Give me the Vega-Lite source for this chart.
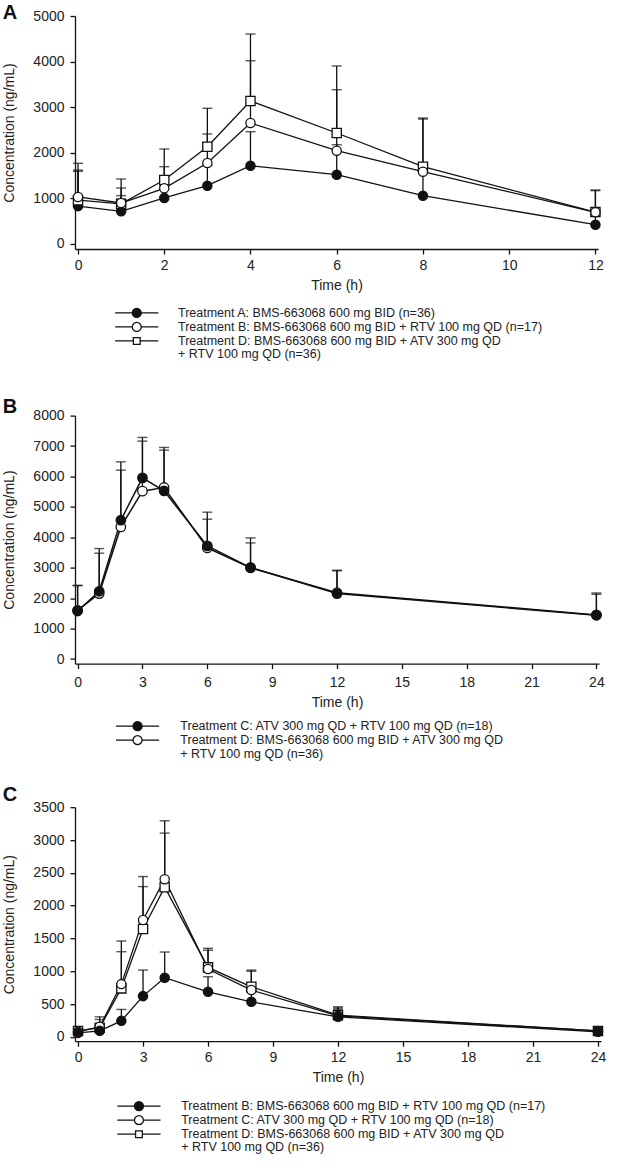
{
  "$schema": "https://vega.github.io/schema/vega-lite/v6.json",
  "background": "white",
  "padding": {"left": 2, "top": 2, "right": 5, "bottom": 0},
  "spacing": 22.6,
  "bounds": "full",
  "config": {
    "view": {"stroke": null},
    "font": "Liberation Sans",
    "axis": {"domainColor": "#111", "domainWidth": 1.3, "tickColor": "#111", "tickWidth": 1.3, "tickSize": 5, "labelFont": "Liberation Sans", "labelFontSize": 14, "labelColor": "#222", "titleFont": "Liberation Sans", "titleFontSize": 14, "titleFontWeight": "normal", "titleColor": "#222", "grid": false, "labelFlush": false, "labelOverlap": false},
    "axisX": {"labelPadding": 4, "titlePadding": 6},
    "axisY": {"labelPadding": 6, "titlePadding": 16},
    "title": {"font": "Liberation Sans", "fontSize": 20, "fontWeight": "bold", "anchor": "start", "frame": "bounds", "color": "#111", "baseline": "alphabetic"},
    "legend": {"orient": "none", "direction": "vertical", "symbolSize": 81, "labelFont": "Liberation Sans", "labelFontSize": 12.5, "labelColor": "#222", "rowPadding": -2, "symbolStrokeWidth": 1.3, "symbolOpacity": 1, "labelLimit": 600, "title": null}
  },
  "datasets": {
    "A": [
      {"series": "Treatment A: BMS-663068 600 mg BID (n=36)", "time": 0, "mean": 830, "upper": 1594},
      {"series": "Treatment A: BMS-663068 600 mg BID (n=36)", "time": 1, "mean": 717, "upper": 1060},
      {"series": "Treatment A: BMS-663068 600 mg BID (n=36)", "time": 2, "mean": 1009, "upper": 1280},
      {"series": "Treatment A: BMS-663068 600 mg BID (n=36)", "time": 3, "mean": 1279, "upper": 1720},
      {"series": "Treatment A: BMS-663068 600 mg BID (n=36)", "time": 4, "mean": 1717, "upper": 2463},
      {"series": "Treatment A: BMS-663068 600 mg BID (n=36)", "time": 6, "mean": 1520, "upper": 2178},
      {"series": "Treatment A: BMS-663068 600 mg BID (n=36)", "time": 8, "mean": 1059, "upper": 1550},
      {"series": "Treatment A: BMS-663068 600 mg BID (n=36)", "time": 12, "mean": 423, "upper": 660},
      {"series": "Treatment D: BMS-663068 600 mg BID + ATV 300 mg QD", "time": 0, "mean": 960, "upper": 1770},
      {"series": "Treatment D: BMS-663068 600 mg BID + ATV 300 mg QD", "time": 1, "mean": 880, "upper": 1425},
      {"series": "Treatment D: BMS-663068 600 mg BID + ATV 300 mg QD", "time": 2, "mean": 1404, "upper": 2083},
      {"series": "Treatment D: BMS-663068 600 mg BID + ATV 300 mg QD", "time": 3, "mean": 2134, "upper": 2976},
      {"series": "Treatment D: BMS-663068 600 mg BID + ATV 300 mg QD", "time": 4, "mean": 3136, "upper": 4605},
      {"series": "Treatment D: BMS-663068 600 mg BID + ATV 300 mg QD", "time": 6, "mean": 2434, "upper": 3904},
      {"series": "Treatment D: BMS-663068 600 mg BID + ATV 300 mg QD", "time": 8, "mean": 1695, "upper": 2763},
      {"series": "Treatment D: BMS-663068 600 mg BID + ATV 300 mg QD", "time": 12, "mean": 700, "upper": 1184},
      {"series": "Treatment B: BMS-663068 600 mg BID + RTV 100 mg QD (n=17)", "time": 0, "mean": 1031, "upper": 1620},
      {"series": "Treatment B: BMS-663068 600 mg BID + RTV 100 mg QD (n=17)", "time": 1, "mean": 899, "upper": 1228},
      {"series": "Treatment B: BMS-663068 600 mg BID + RTV 100 mg QD (n=17)", "time": 2, "mean": 1221, "upper": 1695},
      {"series": "Treatment B: BMS-663068 600 mg BID + RTV 100 mg QD (n=17)", "time": 3, "mean": 1776, "upper": 2412},
      {"series": "Treatment B: BMS-663068 600 mg BID + RTV 100 mg QD (n=17)", "time": 4, "mean": 2653, "upper": 4020},
      {"series": "Treatment B: BMS-663068 600 mg BID + RTV 100 mg QD (n=17)", "time": 6, "mean": 2046, "upper": 3384},
      {"series": "Treatment B: BMS-663068 600 mg BID + RTV 100 mg QD (n=17)", "time": 8, "mean": 1586, "upper": 2740},
      {"series": "Treatment B: BMS-663068 600 mg BID + RTV 100 mg QD (n=17)", "time": 12, "mean": 695, "upper": 1170}
    ],
    "B": [
      {"series": "Treatment D: BMS-663068 600 mg BID + ATV 300 mg QD", "time": 0, "mean": 1600, "upper": 2410},
      {"series": "Treatment D: BMS-663068 600 mg BID + ATV 300 mg QD", "time": 1, "mean": 2150, "upper": 3477},
      {"series": "Treatment D: BMS-663068 600 mg BID + ATV 300 mg QD", "time": 2, "mean": 4342, "upper": 6207},
      {"series": "Treatment D: BMS-663068 600 mg BID + ATV 300 mg QD", "time": 3, "mean": 5516, "upper": 7161},
      {"series": "Treatment D: BMS-663068 600 mg BID + ATV 300 mg QD", "time": 4, "mean": 5637, "upper": 6954},
      {"series": "Treatment D: BMS-663068 600 mg BID + ATV 300 mg QD", "time": 6, "mean": 3650, "upper": 4595},
      {"series": "Treatment D: BMS-663068 600 mg BID + ATV 300 mg QD", "time": 8, "mean": 3000, "upper": 3816},
      {"series": "Treatment D: BMS-663068 600 mg BID + ATV 300 mg QD", "time": 12, "mean": 2180, "upper": 2900},
      {"series": "Treatment D: BMS-663068 600 mg BID + ATV 300 mg QD", "time": 24, "mean": 1450, "upper": 2128},
      {"series": "Treatment C: ATV 300 mg QD + RTV 100 mg QD (n=18)", "time": 0, "mean": 1579, "upper": 2424},
      {"series": "Treatment C: ATV 300 mg QD + RTV 100 mg QD (n=18)", "time": 1, "mean": 2227, "upper": 3630},
      {"series": "Treatment C: ATV 300 mg QD + RTV 100 mg QD (n=18)", "time": 2, "mean": 4562, "upper": 6480},
      {"series": "Treatment C: ATV 300 mg QD + RTV 100 mg QD (n=18)", "time": 3, "mean": 5954, "upper": 7283},
      {"series": "Treatment C: ATV 300 mg QD + RTV 100 mg QD (n=18)", "time": 4, "mean": 5527, "upper": 6865},
      {"series": "Treatment C: ATV 300 mg QD + RTV 100 mg QD (n=18)", "time": 6, "mean": 3717, "upper": 4826},
      {"series": "Treatment C: ATV 300 mg QD + RTV 100 mg QD (n=18)", "time": 8, "mean": 3006, "upper": 3980},
      {"series": "Treatment C: ATV 300 mg QD + RTV 100 mg QD (n=18)", "time": 12, "mean": 2151, "upper": 2918},
      {"series": "Treatment C: ATV 300 mg QD + RTV 100 mg QD (n=18)", "time": 24, "mean": 1437, "upper": 2171}
    ],
    "C": [
      {"series": "Treatment D: BMS-663068 600 mg BID + ATV 300 mg QD", "time": 0, "mean": 90, "upper": 115},
      {"series": "Treatment D: BMS-663068 600 mg BID + ATV 300 mg QD", "time": 1, "mean": 140, "upper": 265},
      {"series": "Treatment D: BMS-663068 600 mg BID + ATV 300 mg QD", "time": 2, "mean": 739, "upper": 1298},
      {"series": "Treatment D: BMS-663068 600 mg BID + ATV 300 mg QD", "time": 3, "mean": 1644, "upper": 2290},
      {"series": "Treatment D: BMS-663068 600 mg BID + ATV 300 mg QD", "time": 4, "mean": 2280, "upper": 3105},
      {"series": "Treatment D: BMS-663068 600 mg BID + ATV 300 mg QD", "time": 6, "mean": 1059, "upper": 1320},
      {"series": "Treatment D: BMS-663068 600 mg BID + ATV 300 mg QD", "time": 8, "mean": 763, "upper": 1000},
      {"series": "Treatment D: BMS-663068 600 mg BID + ATV 300 mg QD", "time": 12, "mean": 330, "upper": 440},
      {"series": "Treatment D: BMS-663068 600 mg BID + ATV 300 mg QD", "time": 24, "mean": 90, "upper": 115},
      {"series": "Treatment C: ATV 300 mg QD + RTV 100 mg QD (n=18)", "time": 0, "mean": 80, "upper": 120},
      {"series": "Treatment C: ATV 300 mg QD + RTV 100 mg QD (n=18)", "time": 1, "mean": 153, "upper": 305},
      {"series": "Treatment C: ATV 300 mg QD + RTV 100 mg QD (n=18)", "time": 2, "mean": 804, "upper": 1461},
      {"series": "Treatment C: ATV 300 mg QD + RTV 100 mg QD (n=18)", "time": 3, "mean": 1781, "upper": 2443},
      {"series": "Treatment C: ATV 300 mg QD + RTV 100 mg QD (n=18)", "time": 4, "mean": 2402, "upper": 3293},
      {"series": "Treatment C: ATV 300 mg QD + RTV 100 mg QD (n=18)", "time": 6, "mean": 1033, "upper": 1349},
      {"series": "Treatment C: ATV 300 mg QD + RTV 100 mg QD (n=18)", "time": 8, "mean": 713, "upper": 1018},
      {"series": "Treatment C: ATV 300 mg QD + RTV 100 mg QD (n=18)", "time": 12, "mean": 320, "upper": 458},
      {"series": "Treatment C: ATV 300 mg QD + RTV 100 mg QD (n=18)", "time": 24, "mean": 90, "upper": 120},
      {"series": "Treatment B: BMS-663068 600 mg BID + RTV 100 mg QD (n=17)", "time": 0, "mean": 61, "upper": 110},
      {"series": "Treatment B: BMS-663068 600 mg BID + RTV 100 mg QD (n=17)", "time": 1, "mean": 92, "upper": 150},
      {"series": "Treatment B: BMS-663068 600 mg BID + RTV 100 mg QD (n=17)", "time": 2, "mean": 244, "upper": 418},
      {"series": "Treatment B: BMS-663068 600 mg BID + RTV 100 mg QD (n=17)", "time": 3, "mean": 621, "upper": 1018},
      {"series": "Treatment B: BMS-663068 600 mg BID + RTV 100 mg QD (n=17)", "time": 4, "mean": 901, "upper": 1293},
      {"series": "Treatment B: BMS-663068 600 mg BID + RTV 100 mg QD (n=17)", "time": 6, "mean": 687, "upper": 916},
      {"series": "Treatment B: BMS-663068 600 mg BID + RTV 100 mg QD (n=17)", "time": 8, "mean": 534, "upper": 680},
      {"series": "Treatment B: BMS-663068 600 mg BID + RTV 100 mg QD (n=17)", "time": 12, "mean": 305, "upper": 420},
      {"series": "Treatment B: BMS-663068 600 mg BID + RTV 100 mg QD (n=17)", "time": 24, "mean": 77, "upper": 110}
    ]
  },
  "vconcat": [
    {
      "title": {"text": "A", "offset": -13.7},
      "width": 523, "height": 233,
      "data": {"name": "A"},
      "encoding": {
        "x": {"field": "time", "type": "quantitative", "scale": {"domain": [-0.07, 12.06], "nice": false, "zero": false}, "axis": {"values": [0, 2, 4, 6, 8, 10, 12], "title": "Time (h)"}},
        "y": {"field": "mean", "type": "quantitative", "scale": {"domain": [-110, 5000], "nice": false, "zero": false}, "axis": {"values": [0, 1000, 2000, 3000, 4000, 5000], "format": "d", "title": "Concentration (ng/mL)"}}
      },
      "layer": [
        {"mark": {"type": "rule", "color": "#111", "strokeWidth": 1.3}, "encoding": {"y2": {"field": "upper"}}},
        {"mark": {"type": "tick", "orient": "horizontal", "color": "#111", "size": 10, "thickness": 1.4}, "encoding": {"y": {"field": "upper", "type": "quantitative"}}},
        {"mark": {"type": "line", "color": "#111", "strokeWidth": 1.3}, "encoding": {"detail": {"field": "series"}}},
        {"mark": {"type": "point", "filled": true, "stroke": "#111", "strokeWidth": 1.3, "size": 85, "opacity": 1},
         "encoding": {
           "shape": {"field": "series", "scale": {"domain": ["Treatment A: BMS-663068 600 mg BID (n=36)", "Treatment B: BMS-663068 600 mg BID + RTV 100 mg QD (n=17)", "Treatment D: BMS-663068 600 mg BID + ATV 300 mg QD"], "range": ["circle", "circle", "square"]}, "legend": null},
           "fill": {"field": "series", "scale": {"domain": ["Treatment A: BMS-663068 600 mg BID (n=36)", "Treatment B: BMS-663068 600 mg BID + RTV 100 mg QD (n=17)", "Treatment D: BMS-663068 600 mg BID + ATV 300 mg QD"], "range": ["#111", "white", "white"]}, "legend": null}
         }},
        {"transform": [{"filter": "false"}],
         "mark": {"type": "point", "filled": false, "strokeWidth": 1.3, "opacity": 1},
         "encoding": {
           "stroke": {"field": "series", "scale": {"domain": ["Treatment A: BMS-663068 600 mg BID (n=36)", "Treatment B: BMS-663068 600 mg BID + RTV 100 mg QD (n=17)", "Treatment D: BMS-663068 600 mg BID + ATV 300 mg QD", "\u00a0\u00a0\u00a0\u00a0\u00a0\u00a0\u00a0\u00a0\u00a0\u00a0\u00a0\u00a0\u00a0\u00a0\u00a0\u00a0\u00a0\u00a0\u00a0\u00a0\u00a0\u00a0+ RTV 100 mg QD (n=36)"], "range": ["#111", "#111", "#111", "transparent"]}, "legend": {"legendX": 42.4, "legendY": 277.6, "padding": 13.1, "labelOffset": 35, "rowPadding": -2}},
           "shape": {"field": "series", "scale": {"domain": ["Treatment A: BMS-663068 600 mg BID (n=36)", "Treatment B: BMS-663068 600 mg BID + RTV 100 mg QD (n=17)", "Treatment D: BMS-663068 600 mg BID + ATV 300 mg QD", "\u00a0\u00a0\u00a0\u00a0\u00a0\u00a0\u00a0\u00a0\u00a0\u00a0\u00a0\u00a0\u00a0\u00a0\u00a0\u00a0\u00a0\u00a0\u00a0\u00a0\u00a0\u00a0+ RTV 100 mg QD (n=36)"], "range": ["M-4.8,0L-1,0M1,0L4.8,0M1,0C1,0.552 0.552,1 0,1C-0.552,1 -1,0.552 -1,0C-1,-0.552 -0.552,-1 0,-1C0.552,-1 1,-0.552 1,0Z", "M-4.8,0L-1,0M1,0L4.8,0M1,0C1,0.552 0.552,1 0,1C-0.552,1 -1,0.552 -1,0C-1,-0.552 -0.552,-1 0,-1C0.552,-1 1,-0.552 1,0Z", "M-4.8,0L-0.75,0M0.75,0L4.8,0M-0.75,-0.75L0.75,-0.75L0.75,0.75L-0.75,0.75Z", "M0,0"]}, "legend": {"legendX": 42.4, "legendY": 277.6, "padding": 13.1, "labelOffset": 35, "rowPadding": -2}},
           "fill": {"field": "series", "scale": {"domain": ["Treatment A: BMS-663068 600 mg BID (n=36)", "Treatment B: BMS-663068 600 mg BID + RTV 100 mg QD (n=17)", "Treatment D: BMS-663068 600 mg BID + ATV 300 mg QD", "\u00a0\u00a0\u00a0\u00a0\u00a0\u00a0\u00a0\u00a0\u00a0\u00a0\u00a0\u00a0\u00a0\u00a0\u00a0\u00a0\u00a0\u00a0\u00a0\u00a0\u00a0\u00a0+ RTV 100 mg QD (n=36)"], "range": ["#111", "white", "white", "transparent"]}, "legend": {"legendX": 42.4, "legendY": 277.6, "padding": 13.1, "labelOffset": 35, "rowPadding": -2}}
         }}
      ],
      "resolve": {"scale": {"shape": "independent", "fill": "independent", "stroke": "independent"}}
    },
    {
      "title": {"text": "B", "offset": -8},
      "width": 524, "height": 248,
      "data": {"name": "B"},
      "encoding": {
        "x": {"field": "time", "type": "quantitative", "scale": {"domain": [-0.12, 24.12], "nice": false, "zero": false}, "axis": {"values": [0, 3, 6, 9, 12, 15, 18, 21, 24], "title": "Time (h)", "labelPadding": 7}},
        "y": {"field": "mean", "type": "quantitative", "scale": {"domain": [-150, 8000], "nice": false, "zero": false}, "axis": {"values": [0, 1000, 2000, 3000, 4000, 5000, 6000, 7000, 8000], "format": "d", "title": "Concentration (ng/mL)"}}
      },
      "layer": [
        {"mark": {"type": "rule", "color": "#111", "strokeWidth": 1.3}, "encoding": {"y2": {"field": "upper"}}},
        {"mark": {"type": "tick", "orient": "horizontal", "color": "#111", "size": 10, "thickness": 1.4}, "encoding": {"y": {"field": "upper", "type": "quantitative"}}},
        {"mark": {"type": "line", "color": "#111", "strokeWidth": 1.5}, "encoding": {"detail": {"field": "series"}}},
        {"mark": {"type": "point", "filled": true, "stroke": "#111", "strokeWidth": 1.3, "size": 90, "opacity": 1},
         "encoding": {
           "shape": {"field": "series", "scale": {"domain": ["Treatment C: ATV 300 mg QD + RTV 100 mg QD (n=18)", "Treatment D: BMS-663068 600 mg BID + ATV 300 mg QD"], "range": ["circle", "circle"]}, "legend": null},
           "fill": {"field": "series", "scale": {"domain": ["Treatment C: ATV 300 mg QD + RTV 100 mg QD (n=18)", "Treatment D: BMS-663068 600 mg BID + ATV 300 mg QD"], "range": ["#111", "white"]}, "legend": null}
         }},
        {"transform": [{"filter": "false"}],
         "mark": {"type": "point", "filled": false, "strokeWidth": 1.3, "opacity": 1},
         "encoding": {
           "stroke": {"field": "series", "scale": {"domain": ["Treatment C: ATV 300 mg QD + RTV 100 mg QD (n=18)", "Treatment D: BMS-663068 600 mg BID + ATV 300 mg QD", "\u00a0\u00a0\u00a0\u00a0\u00a0\u00a0\u00a0\u00a0\u00a0\u00a0\u00a0\u00a0\u00a0\u00a0\u00a0\u00a0\u00a0\u00a0\u00a0\u00a0\u00a0\u00a0+ RTV 100 mg QD (n=36)"], "range": ["#111", "#111", "transparent"]}, "legend": {"legendX": 56.3, "legendY": 304.3, "labelOffset": 36.5, "rowPadding": -2}},
           "shape": {"field": "series", "scale": {"domain": ["Treatment C: ATV 300 mg QD + RTV 100 mg QD (n=18)", "Treatment D: BMS-663068 600 mg BID + ATV 300 mg QD", "\u00a0\u00a0\u00a0\u00a0\u00a0\u00a0\u00a0\u00a0\u00a0\u00a0\u00a0\u00a0\u00a0\u00a0\u00a0\u00a0\u00a0\u00a0\u00a0\u00a0\u00a0\u00a0+ RTV 100 mg QD (n=36)"], "range": ["M-4.8,0L-1,0M1,0L4.8,0M1,0C1,0.552 0.552,1 0,1C-0.552,1 -1,0.552 -1,0C-1,-0.552 -0.552,-1 0,-1C0.552,-1 1,-0.552 1,0Z", "M-4.8,0L-1,0M1,0L4.8,0M1,0C1,0.552 0.552,1 0,1C-0.552,1 -1,0.552 -1,0C-1,-0.552 -0.552,-1 0,-1C0.552,-1 1,-0.552 1,0Z", "M0,0"]}, "legend": {"legendX": 56.3, "legendY": 304.3, "labelOffset": 36.5, "rowPadding": -2}},
           "fill": {"field": "series", "scale": {"domain": ["Treatment C: ATV 300 mg QD + RTV 100 mg QD (n=18)", "Treatment D: BMS-663068 600 mg BID + ATV 300 mg QD", "\u00a0\u00a0\u00a0\u00a0\u00a0\u00a0\u00a0\u00a0\u00a0\u00a0\u00a0\u00a0\u00a0\u00a0\u00a0\u00a0\u00a0\u00a0\u00a0\u00a0\u00a0\u00a0+ RTV 100 mg QD (n=36)"], "range": ["#111", "white", "transparent"]}, "legend": {"legendX": 56.3, "legendY": 304.3, "labelOffset": 36.5, "rowPadding": -2}}
         }}
      ],
      "resolve": {"scale": {"shape": "independent", "fill": "independent", "stroke": "independent"}}
    },
    {
      "title": {"text": "C", "offset": -4.4},
      "width": 526, "height": 234,
      "data": {"name": "C"},
      "encoding": {
        "x": {"field": "time", "type": "quantitative", "scale": {"domain": [-0.14, 24.14], "nice": false, "zero": false}, "axis": {"values": [0, 3, 6, 9, 12, 15, 18, 21, 24], "title": "Time (h)"}},
        "y": {"field": "mean", "type": "quantitative", "scale": {"domain": [-66, 3500], "nice": false, "zero": false}, "axis": {"values": [0, 500, 1000, 1500, 2000, 2500, 3000, 3500], "format": "d", "title": "Concentration (ng/mL)"}}
      },
      "layer": [
        {"mark": {"type": "rule", "color": "#111", "strokeWidth": 1.3}, "encoding": {"y2": {"field": "upper"}}},
        {"mark": {"type": "tick", "orient": "horizontal", "color": "#111", "size": 10, "thickness": 1.4}, "encoding": {"y": {"field": "upper", "type": "quantitative"}}},
        {"mark": {"type": "line", "color": "#111", "strokeWidth": 1.3}, "encoding": {"detail": {"field": "series"}}},
        {"mark": {"type": "point", "filled": true, "stroke": "#111", "strokeWidth": 1.3, "size": 85, "opacity": 1},
         "encoding": {
           "shape": {"field": "series", "scale": {"domain": ["Treatment B: BMS-663068 600 mg BID + RTV 100 mg QD (n=17)", "Treatment C: ATV 300 mg QD + RTV 100 mg QD (n=18)", "Treatment D: BMS-663068 600 mg BID + ATV 300 mg QD"], "range": ["circle", "circle", "square"]}, "legend": null},
           "fill": {"field": "series", "scale": {"domain": ["Treatment B: BMS-663068 600 mg BID + RTV 100 mg QD (n=17)", "Treatment C: ATV 300 mg QD + RTV 100 mg QD (n=18)", "Treatment D: BMS-663068 600 mg BID + ATV 300 mg QD"], "range": ["#111", "white", "white"]}, "legend": null}
         }},
        {"transform": [{"filter": "false"}],
         "mark": {"type": "point", "filled": false, "strokeWidth": 1.3, "opacity": 1},
         "encoding": {
           "stroke": {"field": "series", "scale": {"domain": ["Treatment B: BMS-663068 600 mg BID + RTV 100 mg QD (n=17)", "Treatment C: ATV 300 mg QD + RTV 100 mg QD (n=18)", "Treatment D: BMS-663068 600 mg BID + ATV 300 mg QD", "\u00a0\u00a0\u00a0\u00a0\u00a0\u00a0\u00a0\u00a0\u00a0\u00a0\u00a0\u00a0\u00a0\u00a0\u00a0\u00a0\u00a0\u00a0\u00a0\u00a0\u00a0\u00a0+ RTV 100 mg QD (n=36)"], "range": ["#111", "#111", "#111", "transparent"]}, "legend": {"legendX": 57.7, "legendY": 292.7, "labelOffset": 36, "rowPadding": -2}},
           "shape": {"field": "series", "scale": {"domain": ["Treatment B: BMS-663068 600 mg BID + RTV 100 mg QD (n=17)", "Treatment C: ATV 300 mg QD + RTV 100 mg QD (n=18)", "Treatment D: BMS-663068 600 mg BID + ATV 300 mg QD", "\u00a0\u00a0\u00a0\u00a0\u00a0\u00a0\u00a0\u00a0\u00a0\u00a0\u00a0\u00a0\u00a0\u00a0\u00a0\u00a0\u00a0\u00a0\u00a0\u00a0\u00a0\u00a0+ RTV 100 mg QD (n=36)"], "range": ["M-4.8,0L-1,0M1,0L4.8,0M1,0C1,0.552 0.552,1 0,1C-0.552,1 -1,0.552 -1,0C-1,-0.552 -0.552,-1 0,-1C0.552,-1 1,-0.552 1,0Z", "M-4.8,0L-1,0M1,0L4.8,0M1,0C1,0.552 0.552,1 0,1C-0.552,1 -1,0.552 -1,0C-1,-0.552 -0.552,-1 0,-1C0.552,-1 1,-0.552 1,0Z", "M-4.8,0L-0.75,0M0.75,0L4.8,0M-0.75,-0.75L0.75,-0.75L0.75,0.75L-0.75,0.75Z", "M0,0"]}, "legend": {"legendX": 57.7, "legendY": 292.7, "labelOffset": 36, "rowPadding": -2}},
           "fill": {"field": "series", "scale": {"domain": ["Treatment B: BMS-663068 600 mg BID + RTV 100 mg QD (n=17)", "Treatment C: ATV 300 mg QD + RTV 100 mg QD (n=18)", "Treatment D: BMS-663068 600 mg BID + ATV 300 mg QD", "\u00a0\u00a0\u00a0\u00a0\u00a0\u00a0\u00a0\u00a0\u00a0\u00a0\u00a0\u00a0\u00a0\u00a0\u00a0\u00a0\u00a0\u00a0\u00a0\u00a0\u00a0\u00a0+ RTV 100 mg QD (n=36)"], "range": ["#111", "white", "white", "transparent"]}, "legend": {"legendX": 57.7, "legendY": 292.7, "labelOffset": 36, "rowPadding": -2}}
         }}
      ],
      "resolve": {"scale": {"shape": "independent", "fill": "independent", "stroke": "independent"}}
    }
  ]
}
